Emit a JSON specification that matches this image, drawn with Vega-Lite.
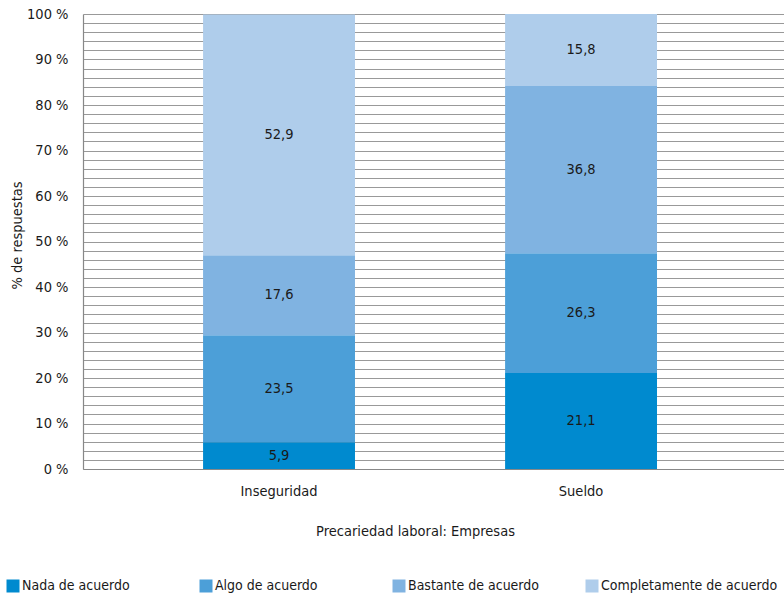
{
  "$schema": "https://vega.github.io/schema/vega-lite/v6.json",
  "width": 701,
  "height": 455,
  "autosize": {"type": "none"},
  "padding": {"left": 83, "top": 14, "right": 0, "bottom": 128},
  "background": "white",
  "config": {
    "view": {"stroke": null},
    "locale": {
      "number": {"decimal": ",", "thousands": ".", "grouping": [3], "currency": ["", " €"]}
    },
    "font": "DejaVu Sans Condensed, DejaVu Sans",
    "axis": {"labelFont": "DejaVu Sans Condensed, DejaVu Sans", "titleFont": "DejaVu Sans Condensed, DejaVu Sans"},
    "legend": {"labelFont": "DejaVu Sans Condensed, DejaVu Sans"}
  },
  "data": {
    "values": [
      {"categoria": "Inseguridad", "nivel": 1, "respuesta": "Nada de acuerdo", "porcentaje": 5.9},
      {"categoria": "Inseguridad", "nivel": 2, "respuesta": "Algo de acuerdo", "porcentaje": 23.5},
      {"categoria": "Inseguridad", "nivel": 3, "respuesta": "Bastante de acuerdo", "porcentaje": 17.6},
      {"categoria": "Inseguridad", "nivel": 4, "respuesta": "Completamente de acuerdo", "porcentaje": 52.9},
      {"categoria": "Sueldo", "nivel": 1, "respuesta": "Nada de acuerdo", "porcentaje": 21.1},
      {"categoria": "Sueldo", "nivel": 2, "respuesta": "Algo de acuerdo", "porcentaje": 26.3},
      {"categoria": "Sueldo", "nivel": 3, "respuesta": "Bastante de acuerdo", "porcentaje": 36.8},
      {"categoria": "Sueldo", "nivel": 4, "respuesta": "Completamente de acuerdo", "porcentaje": 15.8}
    ]
  },
  "encoding": {
    "x": {
      "field": "categoria",
      "type": "nominal",
      "scale": {"paddingInner": 0.497, "paddingOuter": 0.409, "align": 0.486},
      "axis": {
        "title": "Precariedad laboral: Empresas",
        "titleFontSize": 14.5,
        "titleFontWeight": "normal",
        "titleColor": "#1a1a1a",
        "titleX": 332,
        "titleY": 62,
        "titleBaseline": "middle",
        "labelAngle": 0,
        "labelFontSize": 14.5,
        "labelColor": "#1a1a1a",
        "labelPadding": 15,
        "ticks": false,
        "domainColor": "#888888",
        "domainWidth": 1.2
      }
    },
    "y": {
      "field": "porcentaje",
      "type": "quantitative",
      "stack": "zero",
      "scale": {"domain": [0, 100], "nice": false},
      "axis": {
        "title": "% de respuestas",
        "titleFontSize": 14.5,
        "titleFontWeight": "normal",
        "titleColor": "#1a1a1a",
        "titleX": -66,
        "titleY": 221,
        "titleBaseline": "middle",
        "titleAlign": "center",
        "titleAngle": -90,
        "values": [0, 2, 4, 6, 8, 10, 12, 14, 16, 18, 20, 22, 24, 26, 28, 30, 32, 34, 36, 38, 40, 42, 44, 46, 48, 50, 52, 54, 56, 58, 60, 62, 64, 66, 68, 70, 72, 74, 76, 78, 80, 82, 84, 86, 88, 90, 92, 94, 96, 98, 100],
        "labelExpr": "datum.value % 10 === 0 ? datum.value + ' %' : ''",
        "labelFontSize": 14.5,
        "labelColor": "#1a1a1a",
        "labelPadding": 15,
        "ticks": false,
        "grid": true,
        "gridColor": "#999999",
        "gridWidth": 1.2,
        "domainColor": "#888888",
        "domainWidth": 1.2
      }
    },
    "order": {"field": "nivel", "type": "quantitative", "sort": "ascending"}
  },
  "layer": [
    {
      "mark": {"type": "bar"},
      "encoding": {
        "color": {
          "field": "respuesta",
          "type": "nominal",
          "sort": ["Nada de acuerdo", "Algo de acuerdo", "Bastante de acuerdo", "Completamente de acuerdo"],
          "scale": {
            "domain": ["Nada de acuerdo", "Algo de acuerdo", "Bastante de acuerdo", "Completamente de acuerdo"],
            "range": ["#008acf", "#4c9fd8", "#80b3e1", "#afcdeb"]
          },
          "legend": {
            "title": null,
            "orient": "none",
            "legendX": -77,
            "legendY": 565,
            "direction": "horizontal",
            "columns": 4,
            "gridAlign": "all",
            "columnPadding": -9,
            "symbolType": "square",
            "symbolSize": 169,
            "symbolStrokeWidth": 0,
            "symbolOpacity": 1,
            "labelFontSize": 14,
            "labelColor": "#1a1a1a",
            "labelOffset": 2,
            "labelLimit": 300
          }
        }
      }
    },
    {
      "mark": {"type": "text", "fontSize": 14.5, "color": "#1a1a1a", "baseline": "middle"},
      "encoding": {
        "y": {"field": "porcentaje", "type": "quantitative", "stack": "zero", "bandPosition": 0.5},
        "detail": {"field": "respuesta", "type": "nominal"},
        "text": {"field": "porcentaje", "type": "quantitative", "format": ".1f"}
      }
    }
  ]
}
